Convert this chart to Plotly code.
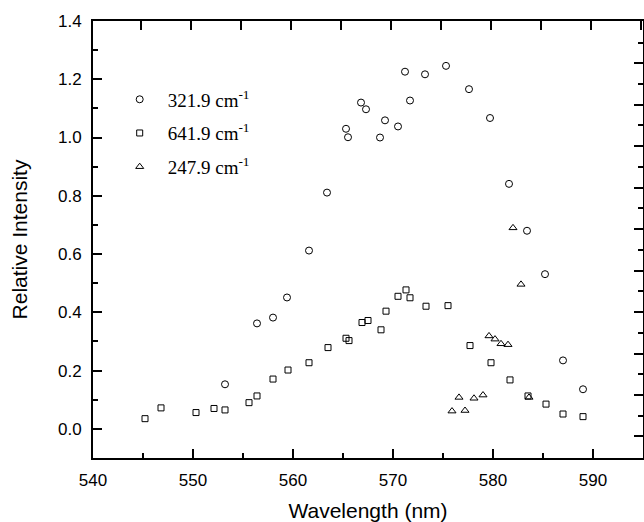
import plotly.graph_objects as go

# 321.9 cm-1 band
wl_321 = [553.2, 556.4, 558.0, 559.4, 561.6, 563.4, 565.3, 565.5, 566.8, 567.3,
          568.7, 569.2, 570.5, 571.2, 571.7, 573.2, 575.3, 577.6, 579.7, 581.6,
          583.4, 585.2, 587.0, 589.0]
int_321 = [0.153, 0.362, 0.382, 0.451, 0.612, 0.811, 1.030, 1.001, 1.120, 1.097,
           1.000, 1.059, 1.038, 1.226, 1.127, 1.217, 1.246, 1.166, 1.067, 0.841,
           0.680, 0.531, 0.235, 0.136]

# 641.9 cm-1 band
wl_641 = [545.2, 546.8, 550.3, 552.1, 553.2, 555.6, 556.4, 558.0, 559.5, 561.6,
          563.5, 565.3, 565.6, 566.9, 567.5, 568.8, 569.3, 570.5, 571.3, 571.7,
          573.3, 575.5, 577.7, 579.8, 581.7, 583.5, 585.3, 587.0, 589.0]
int_641 = [0.035, 0.072, 0.056, 0.070, 0.065, 0.090, 0.113, 0.171, 0.202, 0.227,
           0.279, 0.311, 0.303, 0.365, 0.372, 0.340, 0.404, 0.455, 0.477, 0.450,
           0.421, 0.423, 0.286, 0.227, 0.168, 0.113, 0.085, 0.051, 0.042]

# 247.9 cm-1 band
wl_247 = [575.9, 576.6, 577.2, 578.1, 579.0, 579.6, 580.2, 580.8, 581.5, 582.0,
          582.8, 583.6]
int_247 = [0.061, 0.108, 0.063, 0.105, 0.116, 0.319, 0.308, 0.292, 0.289, 0.690,
           0.496, 0.108]

series = [
    ("321.9 cm<sup>-1</sup>", wl_321, int_321, "circle-open", 7),
    ("641.9 cm<sup>-1</sup>", wl_641, int_641, "square-open", 6),
    ("247.9 cm<sup>-1</sup>", wl_247, int_247, "triangle-up-open", 7),
]

fig = go.Figure()
for i, (name, x, y, sym, sz) in enumerate(series):
    fig.add_trace(go.Scatter(
        x=x, y=y, mode="markers", name=name, legendgroup=f"g{i}",
        marker=dict(symbol=sym, size=sz, color="black", line=dict(width=1, color="black")),
    ))

# empty trace so the top/right frame axes get drawn
fig.add_trace(go.Scatter(x=[], y=[], xaxis="x2", yaxis="y2", showlegend=False))

tick_font = dict(family="Liberation Sans, Arial", size=17, color="black")
title_font = dict(family="Liberation Sans, Arial", size=21, color="black")

fig.update_layout(
    width=644, height=522,
    margin=dict(l=93, r=1, t=21, b=61),
    paper_bgcolor="white", plot_bgcolor="white",
    showlegend=True,
    legend=dict(
        x=0.034, y=0.864, xanchor="left", yanchor="top",
        font=dict(family="Liberation Serif, Times New Roman", size=19, color="black"),
        bgcolor="rgba(0,0,0,0)", tracegroupgap=6, itemwidth=46,
    ),
    xaxis=dict(
        range=[540, 595], dtick=10, tick0=540,
        ticks="inside", ticklen=9, tickwidth=2, tickcolor="black",
        minor=dict(dtick=5, ticks="inside", ticklen=5, tickwidth=2, tickcolor="black"),
        showline=True, linewidth=2, linecolor="black",
        showgrid=False, zeroline=False,
        tickfont=tick_font, ticklabelstandoff=6,
        title=dict(text="Wavelength (nm)", font=title_font, standoff=16),
    ),
    yaxis=dict(
        range=[-0.1, 1.4], dtick=0.2, tick0=0, tickformat=".1f",
        ticks="inside", ticklen=9, tickwidth=2, tickcolor="black",
        minor=dict(dtick=0.1, ticks="inside", ticklen=5, tickwidth=2, tickcolor="black"),
        showline=True, linewidth=2, linecolor="black",
        showgrid=False, zeroline=False,
        tickfont=tick_font, ticklabelstandoff=6,
        title=dict(text="Relative Intensity", font=title_font, standoff=25),
    ),
    xaxis2=dict(
        overlaying="x", side="top", anchor="y",
        range=[540.2, 595.2], dtick=5, tick0=545,
        ticks="inside", ticklen=9, tickwidth=2, tickcolor="black",
        showticklabels=False, showline=True, linewidth=2, linecolor="black",
        showgrid=False, zeroline=False,
    ),
    yaxis2=dict(
        overlaying="y", side="right", anchor="x",
        range=[-0.52, 10.02], dtick=1, tick0=0,
        ticks="inside", ticklen=9, tickwidth=2, tickcolor="black",
        minor=dict(dtick=0.5, ticks="inside", ticklen=5, tickwidth=2, tickcolor="black"),
        showticklabels=False, showline=True, linewidth=2, linecolor="black",
        showgrid=False, zeroline=False,
    ),
)

# page body has an 8px default margin; drop it so the figure fills the window
fig.write_html(
    "out.html",
    config={"displayModeBar": False},
    post_script="document.body.style.margin='0';document.body.style.overflow='hidden';",
)
